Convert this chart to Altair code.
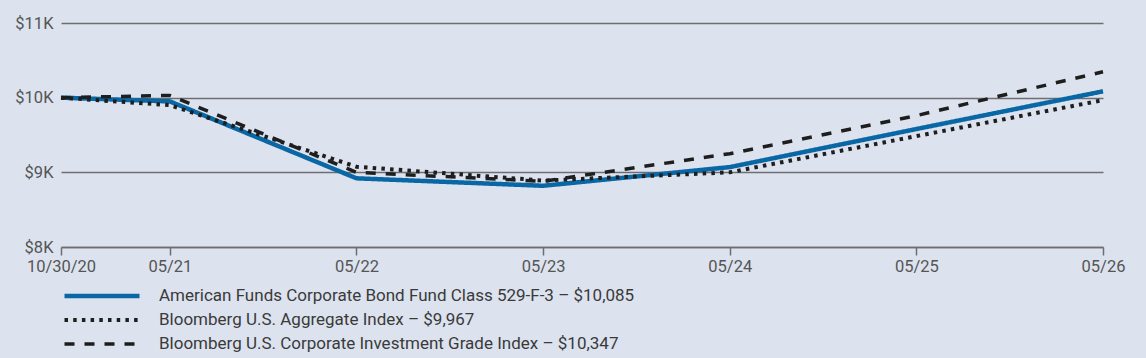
import altair as alt
import pandas as pd

tick_labels = ["10/30/20", "05/21", "05/22", "05/23", "05/24", "05/25", "05/26"]
months = [0, 7, 19, 31, 43, 55, 67]
fund = [10000, 9950, 8920, 8820, 9070, 9580, 10085]
agg = [10000, 9900, 9075, 8890, 9000, 9485, 9967]
corp = [10000, 10030, 9000, 8880, 9250, 9760, 10347]
names = [
    "American Funds Corporate Bond Fund Class 529-F-3 – $10,085",
    "Bloomberg U.S. Aggregate Index – $9,967",
    "Bloomberg U.S. Corporate Investment Grade Index – $10,347",
]
y_ticks = [8000, 9000, 10000, 11000]

rows = []
for name, vals in zip(names, [fund, agg, corp]):
    for m, v in zip(months, vals):
        rows.append({"series": name, "m": m, "value": v})
df = pd.DataFrame(rows)

FONT = "Roboto"
BG = "#dce3ef"
AXIS_GRAY = "#6e6e70"

label_expr = "[" + ",".join(f"'{t}'" for t in tick_labels) + "][indexof([" + ",".join(str(m) for m in months) + "], datum.value)]"

leg = alt.Legend(
    title=None, orient="none", legendX=1, legendY=261, direction="vertical",
    symbolType="stroke", symbolSize=5625, clipHeight=24, rowPadding=0,
    labelOffset=17, labelFontSize=17, labelFont=FONT, labelColor="#3a3a3a",
    padding=0, labelLimit=900,
)

chart = alt.Chart(df).mark_line(strokeCap="butt", strokeJoin="miter").encode(
    x=alt.X("m:Q", scale=alt.Scale(domain=[0, 67], nice=False, zero=False),
            axis=alt.Axis(values=months, labelExpr=label_expr, title=None, grid=False,
                          tickSize=8, tickColor=AXIS_GRAY, tickWidth=1.5,
                          domainColor=AXIS_GRAY, domainWidth=1.5,
                          labelFontSize=16.5, labelFont=FONT, labelColor="#555555",
                          labelPadding=3, labelOverlap=False, labelFlush=False)),
    y=alt.Y("value:Q", scale=alt.Scale(domain=[8000, 11000], nice=False, zero=False),
            axis=alt.Axis(values=y_ticks, labelExpr="'$' + (datum.value/1000) + 'K'",
                          title=None, grid=True, gridColor=AXIS_GRAY, gridWidth=1.5,
                          domain=False, ticks=False, labelFontSize=16.5, labelFont=FONT,
                          labelColor="#555555", labelPadding=8)),
    color=alt.Color("series:N", scale=alt.Scale(domain=names, range=["#0a67a5", "#1e1e1e", "#1e1e1e"]), legend=leg),
    strokeDash=alt.StrokeDash("series:N", scale=alt.Scale(domain=names, range=[[1, 0], [3.5, 5.2], [10, 10]]), legend=leg),
    strokeWidth=alt.StrokeWidth("series:N", scale=alt.Scale(domain=names, range=[4.5, 3.5, 2.2]), legend=leg),
).properties(
    width=1042, height=224,
    autosize=alt.AutoSizeParams(type="none"),
    padding={"left": 61, "top": 23, "right": 43, "bottom": 111},
    background=BG,
).configure_view(stroke=None, fill=BG)

chart.save("out.html", embed_options={"renderer": "svg", "actions": False})
